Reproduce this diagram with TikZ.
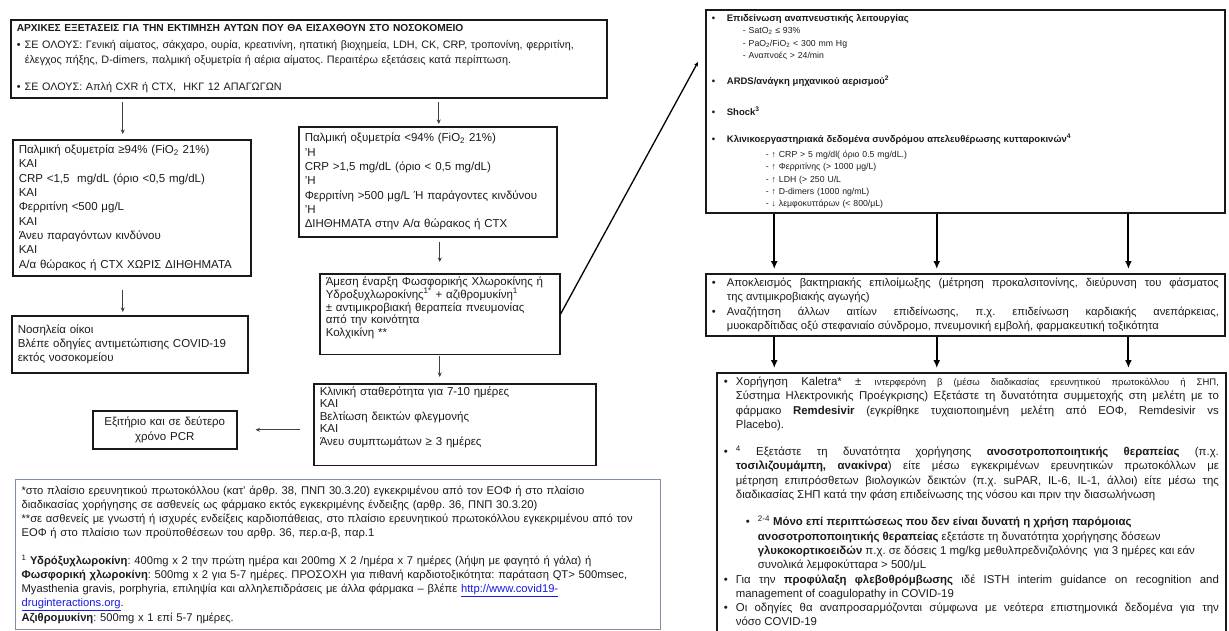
\documentclass[tikz,border=0pt]{standalone}
\usepackage{fontspec}
\setmainfont{Liberation Sans}
\usetikzlibrary{arrows.meta}
\usetikzlibrary{calc}
\frenchspacing

\definecolor{inkgray}{RGB}{28,28,28}
\definecolor{footblue}{RGB}{128,142,168}
\definecolor{linkblue}{RGB}{25,25,225}

\newcommand{\bul}{\makebox[8pt][l]{\textbullet}}
\newcommand{\bulr}{\makebox[15pt][l]{\textbullet}}
\newcommand{\bitem}[3][0pt]{{\leftskip=\dimexpr#1+#2\relax\noindent\hspace*{-#2}\makebox[#2][l]{\textbullet}#3\par}}
\newcommand{\lnk}[1]{\textcolor{linkblue}{\underline{#1}}}
\newcommand{\hd}{\bfseries\fontsize{9.5}{12.3}\selectfont}
\newcommand{\padb}[1]{\rule[-#1]{0pt}{#1}}

\tikzset{
  flowbox/.style={draw=black!90, line width=1.5pt, anchor=north west, align=left, inner xsep=6pt, inner ysep=3pt, text=inkgray, font=\fontsize{11.5}{14.3}\selectfont},
  thinarr/.style={->, draw=black!75, line width=0.7pt, shorten <=3pt, shorten >=5pt},
  fatarr/.style={-{Latex[length=8pt,width=7pt]}, line width=2pt, shorten >=4pt},
}

\begin{document}
\begin{tikzpicture}[x=1pt,y=-1pt,>={Stealth[length=4.5pt,width=4pt]}]
  \useasboundingbox (0,0) rectangle (1229,630);
  \clip (0,0) rectangle (1229,630);
  \fill[white] (0,0) rectangle (1229,630);

  \node[flowbox, text width=584pt, minimum height=78pt, font=\fontsize{10.8}{15}\selectfont] (b_top) at (10,19)
    {{\bfseries\fontsize{10.2}{15}\selectfont ΑΡΧΙΚΕΣ ΕΞΕΤΑΣΕΙΣ ΓΙΑ ΤΗΝ ΕΚΤΙΜΗΣΗ ΑΥΤΩΝ ΠΟΥ ΘΑ ΕΙΣΑΧΘΟΥΝ ΣΤΟ ΝΟΣΟΚΟΜΕΙΟ}\\[2pt]
     \bul ΣΕ ΟΛΟΥΣ: Γενική αίματος, σάκχαρο, ουρία, κρεατινίνη, ηπατική βιοχημεία, LDH, CK, CRP, τροπονίνη, φερριτίνη,\\
     \hspace*{8pt}έλεγχος πήξης, D-dimers, παλμική οξυμετρία ή αέρια αίματος. Περαιτέρω εξετάσεις κατά περίπτωση.\\[12pt]
     \bul ΣΕ ΟΛΟΥΣ: Απλή CXR ή CTX,\ \ ΗΚΓ 12 ΑΠΑΓΩΓΩΝ};
  \node[flowbox, text width=226pt, minimum height=136pt] (b_low) at (12,139)
    {Παλμική οξυμετρία ≥94\% (FiO\textsubscript{2} 21\%)\\ ΚΑΙ\\ CRP <1,5\ \ mg/dL (όριο <0,5 mg/dL)\\ ΚΑΙ\\ Φερριτίνη <500 μg/L\\ ΚΑΙ\\ Άνευ παραγόντων κινδύνου\\ ΚΑΙ\\ Α/α θώρακος ή CTX ΧΩΡΙΣ ΔΙΗΘΗΜΑΤΑ};
  \node[flowbox, text width=246pt, minimum height=110pt] (b_high) at (298,126)
    {Παλμική οξυμετρία <94\% (FiO\textsubscript{2} 21\%)\\ 'Η\\ CRP >1,5 mg/dL (όριο < 0,5 mg/dL)\\ 'Η\\ Φερριτίνη >500 μg/L Ή παράγοντες κινδύνου\\ 'Η\\ ΔΙΗΘΗΜΑΤΑ στην Α/α θώρακος ή CTX};
  \node[flowbox, text width=228pt, font=\fontsize{11.5}{12.8}\selectfont] (b_drug) at (319,273)
    {Άμεση έναρξη Φωσφορικής Χλωροκίνης ή\\ Υδροξυχλωροκίνης\textsuperscript{1*} + αζιθρομυκίνη\textsuperscript{1}\\ ± αντιμικροβιακή θεραπεία πνευμονίας\\ από την κοινότητα\\ Κολχικίνη **\padb{15pt}};
  \node[flowbox, text width=224pt, minimum height=57pt] (b_home) at (11,315)
    {Νοσηλεία οίκοι\\ Βλέπε οδηγίες αντιμετώπισης COVID-19\\ εκτός νοσοκομείου};
  \node[flowbox, text width=270pt, font=\fontsize{11.5}{12.5}\selectfont] (b_stable) at (313,383)
    {Κλινική σταθερότητα για 7-10 ημέρες\\ ΚΑΙ\\ Βελτίωση δεικτών φλεγμονής\\ ΚΑΙ\\ Άνευ συμπτωμάτων ≥ 3 ημέρες\padb{17pt}};
  \node[flowbox, text width=132pt, minimum height=38pt, align=center] (b_exit) at (92,410)
    {Εξιτήριο και σε δεύτερο\\ χρόνο PCR};
  \node[flowbox, draw=footblue, line width=1.2pt, text width=633pt, minimum height=150pt, font=\fontsize{11.2}{14.1}\selectfont] (b_foot) at (15,479)
    {*στο πλαίσιο ερευνητικού πρωτοκόλλου (κατ' άρθρ. 38, ΠΝΠ 30.3.20) εγκεκριμένου από τον ΕΟΦ ή στο πλαίσιο\\
     διαδικασίας χορήγησης σε ασθενείς ως φάρμακο εκτός εγκεκριμένης ένδειξης (αρθρ. 36, ΠΝΠ 30.3.20)\\
     {}**σε ασθενείς με γνωστή ή ισχυρές ενδείξεις καρδιοπάθειας, στο πλαίσιο ερευνητικού πρωτοκόλλου εγκεκριμένου από τον\\
     ΕΟΦ ή στο πλαίσιο των προϋποθέσεων του αρθρ. 36, περ.α-β, παρ.1\\[14pt]
     \textsuperscript{1} \textbf{Υδρόξυχλωροκίνη}: 400mg x 2 την πρώτη ημέρα και 200mg X 2 /ημέρα x 7 ημέρες (λήψη με φαγητό ή γάλα) ή\\
     \textbf{Φωσφορική χλωροκίνη}: 500mg x 2 για 5-7 ημέρες. ΠΡΟΣΟΧΗ για πιθανή καρδιοτοξικότητα: παράταση QT> 500msec,\\
     Myasthenia gravis, porphyria, επιληψία και αλληλεπιδράσεις με άλλα φάρμακα – βλέπε \lnk{http://www.covid19-}\\
     \lnk{druginteractions.org}.\\
     \textbf{Αζιθρομυκίνη}: 500mg x 1 επί 5-7 ημέρες.};

  \node[flowbox, line width=1.8pt, text width=507pt, minimum height=203pt, font=\fontsize{8.7}{12.3}\selectfont] (b_sev) at (705,9)
    {{\hd\bulr Επιδείνωση αναπνευστικής λειτουργίας}\\
     \hspace*{31pt}- SatO\textsubscript{2} ≤ 93\%\\
     \hspace*{31pt}- PaO\textsubscript{2}/FiO\textsubscript{2} < 300 mm Hg\\
     \hspace*{31pt}- Αναπνοές > 24/min\\[13.7pt]
     {\hd\bulr ARDS/ανάγκη μηχανικού αερισμού\textsuperscript{2}}\\[18.7pt]
     {\hd\bulr Shock\textsuperscript{3}}\\[14.7pt]
     {\hd\bulr Κλινικοεργαστηριακά δεδομένα συνδρόμου απελευθέρωσης κυτταροκινών\textsuperscript{4}}\\[2.7pt]
     \hspace*{54pt}- ↑ CRP > 5 mg/dl( όριο 0.5 mg/dL.)\\
     \hspace*{54pt}- ↑ Φερριτίνης (> 1000 μg/L)\\
     \hspace*{54pt}- ↑ LDH (> 250 U/L\\
     \hspace*{54pt}- ↑ D-dimers (1000 ng/mL)\\
     \hspace*{54pt}- ↓ λεμφοκυττάρων (< 800/μL)};
  \node[flowbox, line width=1.8pt, text width=507pt, minimum height=62pt, align=justify, font=\fontsize{11.2}{14.5}\selectfont] (b_next) at (705,273)
    {\bitem{15pt}{Αποκλεισμός βακτηριακής επιλοίμωξης (μέτρηση προκαλσιτονίνης, διεύρυνση του φάσματος\linebreak της αντιμικροβιακής αγωγής)}
     \bitem{15pt}{Αναζήτηση άλλων αιτίων επιδείνωσης, π.χ. επιδείνωση καρδιακής ανεπάρκειας,\linebreak μυοκαρδίτιδας οξύ στεφανιαίο σύνδρομο, πνευμονική εμβολή, φαρμακευτική τοξικότητα}};
  \node[flowbox, line width=1.8pt, text width=495pt, inner xsep=7pt, inner ysep=4pt, align=justify, font=\fontsize{11.4}{14.3}\selectfont] (b_treat) at (716,372)
    {\bitem{12pt}{Χορήγηση Kaletra* ± {\fontsize{9.5}{14.3}\selectfont ιντερφερόνη β (μέσω διαδικασίας ερευνητικού πρωτοκόλλου ή ΣΗΠ,}\linebreak Σύστημα Ηλεκτρονικής Προέγκρισης) Εξετάστε τη δυνατότητα συμμετοχής στη μελέτη με το\linebreak φάρμακο \textbf{Remdesivir} (εγκρίθηκε τυχαιοποιημένη μελέτη από ΕΟΦ, Remdesivir vs\linebreak Placebo).}
     \vspace{13pt}
     \bitem{12pt}{\textsuperscript{4} Εξετάστε τη δυνατότητα χορήγησης \textbf{ανοσοτροποποιητικής θεραπείας} (π.χ.\linebreak \textbf{τοσιλιζουμάμπη, ανακίνρα}) είτε μέσω εγκεκριμένων ερευνητικών πρωτοκόλλων με\linebreak μέτρηση επιπρόσθετων βιολογικών δεικτών (π.χ. suPAR, IL-6, IL-1, άλλοι) είτε μέσω της\linebreak διαδικασίας ΣΗΠ κατά την φάση επιδείνωσης της νόσου και πριν την διασωλήνωση}
     \vspace{13pt}
     \bitem[22pt]{12pt}{\rightskip=0pt plus 1fil\textsuperscript{2-4} \textbf{Μόνο επί περιπτώσεως που δεν είναι δυνατή η χρήση παρόμοιας}\newline \textbf{ανοσοτροποποιητικής θεραπείας} εξετάστε τη δυνατότητα χορήγησης δόσεων\newline \textbf{γλυκοκορτικοειδών} π.χ. σε δόσεις 1 mg/kg μεθυλπρεδνιζολόνης\ \ για 3 ημέρες και εάν\newline συνολικά λεμφοκύτταρα > 500/μL}
     \bitem{12pt}{Για την \textbf{προφύλαξη φλεβοθρόμβωσης} ιδέ ISTH interim guidance on recognition and\linebreak management of coagulopathy in COVID-19}
     \bitem{12pt}{Οι οδηγίες θα αναπροσαρμόζονται σύμφωνα με νεότερα επιστημονικά δεδομένα για την\linebreak νόσο COVID-19\padb{10pt}}};

  \draw[thinarr] ([xshift=-9pt]b_low.north |- b_top.south) -- ([xshift=-9pt]b_low.north);
  \draw[thinarr, shorten >=2pt] ([xshift=11pt]b_high.north |- b_top.south) -- ([xshift=11pt]b_high.north);
  \draw[thinarr, shorten <=4pt, shorten >=11pt] (b_drug.north |- b_high.south) -- (b_drug.north);
  \draw[thinarr, shorten <=13pt, shorten >=3pt] ([xshift=-9pt]b_low.south) -- ([xshift=-9pt]b_low.south |- b_home.north);
  \draw[thinarr, shorten <=1pt, shorten >=6pt] (b_drug.south) -- (b_drug.south |- b_stable.north);
  \draw[thinarr, shorten <=13pt, shorten >=18pt] (b_exit.east -| b_stable.west) -- (b_exit.east);
  \draw[->, line width=1.3pt] (b_drug.east) -- ([shift={(-7,53)}]b_sev.north west);
  \foreach \f [count=\i] in {0.133,0.445,0.813}{
    \coordinate (up_\i) at ($(b_sev.south west)!\f!(b_sev.south east)$);
    \coordinate (mid_\i) at ($(b_next.south west)!\f!(b_next.south east)$);
    \draw[fatarr] (up_\i) -- (up_\i |- b_next.north);
    \draw[fatarr] (mid_\i) -- (mid_\i |- b_treat.north);
  }
\end{tikzpicture}
\end{document}
